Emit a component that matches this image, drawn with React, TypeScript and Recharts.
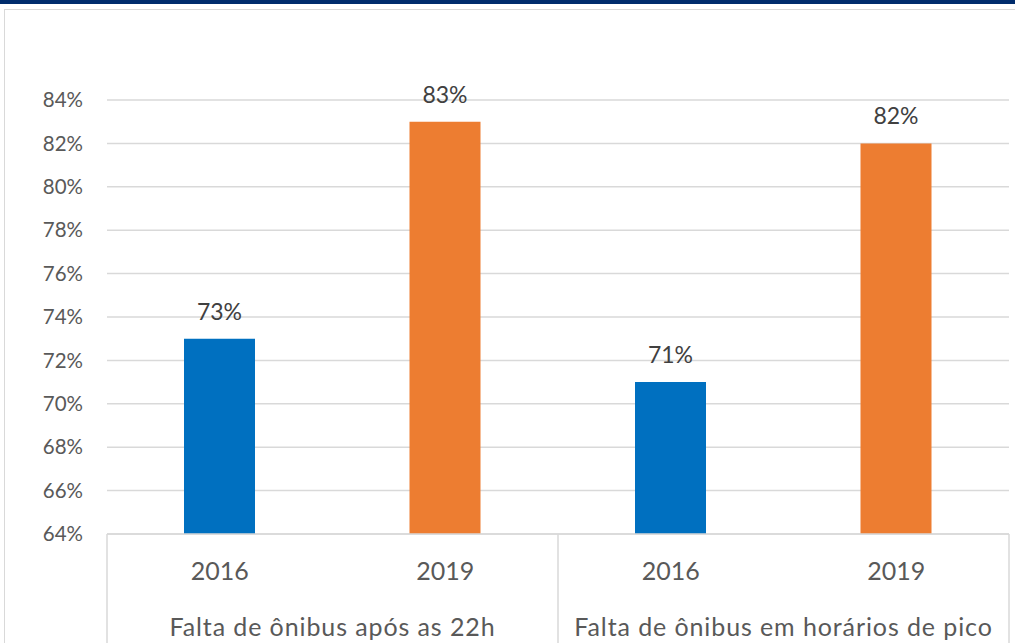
import { BarChart, Bar, XAxis, YAxis, CartesianGrid, LabelList, Cell } from 'recharts';

const years = ['2016', '2019', '2016', '2019'];
const groups = [
  'Falta de ônibus após as 22h',
  'Falta de ônibus após as 22h',
  'Falta de ônibus em horários de pico',
  'Falta de ônibus em horários de pico',
];
const values = [73, 83, 71, 82];
const barColors = ['#0070C0', '#ED7D31', '#0070C0', '#ED7D31'];
const yTicks = [64, 66, 68, 70, 72, 74, 76, 78, 80, 82, 84];

const data = years.map((year, i) => ({ id: i, year, group: groups[i], value: values[i] }));

const FONT = 'Lato, "Open Sans", sans-serif';
const BORDER = '#d9d9d9';

// eixo de categorias em dois níveis: ano + grupo, com separadores verticais
function CategoryTick(props: any) {
  const { x, y, index, payload } = props;
  const off = payload && payload.offset ? payload.offset : 112.75;
  const row = data[index];
  const last = index === data.length - 1;
  const nextGroup = !last && data[index + 1].group !== row.group;
  const firstOfGroup = index === 0 || data[index - 1].group !== row.group;
  return (
    <g>
      <text x={x} y={y + 46} textAnchor="middle" fill="#595959" fontSize={25} fontFamily={FONT}>
        {row.year}
      </text>
      {index === 0 && <line x1={x - off} x2={x - off} y1={y} y2={y + 110} stroke={BORDER} strokeWidth={1.5} />}
      {(nextGroup || last) && <line x1={x + off} x2={x + off} y1={y} y2={y + 110} stroke={BORDER} strokeWidth={1.5} />}
      {firstOfGroup && (
        <text
          x={x + off}
          y={y + 102}
          textAnchor="middle"
          fill="#595959"
          fontSize={25}
          letterSpacing={0.9}
          fontFamily={FONT}
        >
          {row.group}
        </text>
      )}
    </g>
  );
}

export default function App() {
  return (
    <div style={{ position: 'absolute', left: 0, top: 0, width: 1015, height: 643, background: '#fff', overflow: 'hidden' }}>
      <div style={{ position: 'absolute', left: 0, top: 0, width: 1015, height: 4, background: '#002c6c' }} />
      <div
        style={{
          position: 'absolute',
          left: 4,
          top: 9,
          width: 1030,
          height: 660,
          border: `1.5px solid ${BORDER}`,
          boxSizing: 'border-box',
        }}
      />
      <div style={{ position: 'absolute', left: 0, top: 0 }}>
        <BarChart width={1015} height={643} data={data} margin={{ top: 100, right: 6, bottom: 0, left: 0 }}>
          <CartesianGrid vertical={false} stroke={BORDER} strokeWidth={1.5} />
          <XAxis
            dataKey="id"
            type="category"
            height={109}
            interval={0}
            tickLine={false}
            tickSize={0}
            tickMargin={0}
            axisLine={{ stroke: BORDER, strokeWidth: 1.5 }}
            tick={<CategoryTick />}
          />
          <YAxis
            domain={[64, 84]}
            ticks={yTicks}
            width={107}
            axisLine={false}
            tickLine={false}
            tickSize={0}
            tickMargin={24}
            tickFormatter={(v: number) => `${v}%`}
            tick={{ fill: '#595959', fontSize: 20.5, fontFamily: FONT }}
          />
          <Bar dataKey="value" barSize={71} isAnimationActive={false}>
            {data.map((d, i) => (
              <Cell key={d.id} fill={barColors[i]} />
            ))}
            <LabelList
              dataKey="value"
              position="top"
              offset={19}
              formatter={(v: any) => `${v}%`}
              fill="#404040"
              fontSize={23}
              fontFamily={FONT}
            />
          </Bar>
        </BarChart>
      </div>
    </div>
  );
}
